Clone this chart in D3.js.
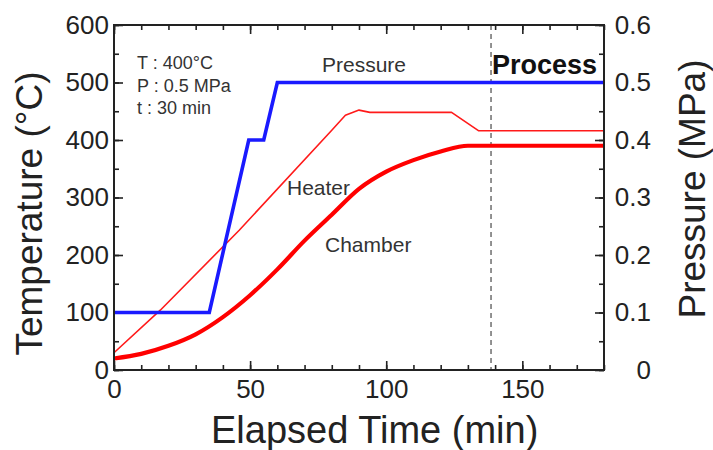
<!DOCTYPE html>
<html>
<head>
<meta charset="utf-8">
<script src="https://cdn.jsdelivr.net/npm/d3@7/dist/d3.min.js"></script>
<style>
  html, body { margin: 0; padding: 0; background: #fff; }
  svg { display: block; font-family: "Liberation Sans", Arial, Helvetica, sans-serif; }
</style>
</head>
<body>
<svg id="chart" width="713" height="450"></svg>
<script>
// Pressure set-point profile (MPa) against elapsed time (min)
const pressureTime = [0, 35, 49.5, 55, 60, 180];
const pressureMPa  = [0.1, 0.1, 0.4, 0.4, 0.5, 0.5];

// Heater temperature (°C)
const heaterTime = [0, 17, 46, 80, 85, 90, 94, 124, 129, 134, 180];
const heaterTemp = [30, 104, 243, 417, 443, 452, 448, 448, 432, 416, 416];

// Chamber temperature (°C)
const chamberTime = [0, 10, 20, 30, 40, 50, 60, 70, 80, 90, 100, 110, 120, 130, 180];
const chamberTemp = [20, 28, 42, 62, 92, 130, 175, 225, 270, 315, 345, 365, 380, 390, 390];

// Start of the process hold
const processStart = 138.5;

// Tick values
const timeMajor = [0, 50, 100, 150];
const timeMinor = d3.range(0, 181, 10);
const tempMajor = [0, 100, 200, 300, 400, 500, 600];
const tempMinor = d3.range(0, 601, 50);
const presMajor = [0, 0.1, 0.2, 0.3, 0.4, 0.5, 0.6];
const presMinor = d3.range(0, 13).map(i => i * 0.05);

// Condition notes
const conditionLines = ["T : 400\u00B0C", "P : 0.5 MPa", "t : 30 min"];

const svg = d3.select("#chart");
const L = 114, R = 604, T = 25, B = 370;

const x = d3.scaleLinear().domain([0, 180]).range([L, R]);
const yT = d3.scaleLinear().domain([0, 600]).range([B, T]);
const yP = d3.scaleLinear().domain([0, 0.6]).range([B, T]);

const axisColor = "#222";
const fs = 26;

// Minor and major ticks, all pointing into the plot
function styleAxis(g) {
  g.select(".domain").remove();
  g.selectAll("line").attr("stroke", axisColor).attr("stroke-width", 1.6);
  g.selectAll("text").attr("fill", axisColor).attr("font-size", fs)
    .attr("font-family", "Liberation Sans, Arial, sans-serif");
}

svg.append("g").attr("transform", `translate(0,${B})`)
  .call(d3.axisBottom(x).tickValues(timeMinor).tickSize(-5).tickSizeOuter(0).tickFormat(""))
  .call(styleAxis);
svg.append("g").attr("transform", `translate(0,${B})`)
  .call(d3.axisBottom(x).tickValues(timeMajor).tickSize(-9).tickSizeOuter(0).tickPadding(10))
  .call(styleAxis);

svg.append("g").attr("transform", `translate(0,${T})`)
  .call(d3.axisTop(x).tickValues(timeMinor).tickSize(-5).tickSizeOuter(0).tickFormat(""))
  .call(styleAxis);
svg.append("g").attr("transform", `translate(0,${T})`)
  .call(d3.axisTop(x).tickValues(timeMajor).tickSize(-9).tickSizeOuter(0).tickFormat(""))
  .call(styleAxis);

svg.append("g").attr("transform", `translate(${L},0)`)
  .call(d3.axisLeft(yT).tickValues(tempMinor).tickSize(-5).tickSizeOuter(0).tickFormat(""))
  .call(styleAxis);
svg.append("g").attr("transform", `translate(${L},0)`)
  .call(d3.axisLeft(yT).tickValues(tempMajor).tickSize(-9).tickSizeOuter(0).tickPadding(5))
  .call(styleAxis);

svg.append("g").attr("transform", `translate(${R},0)`)
  .call(d3.axisRight(yP).tickValues(presMinor).tickSize(-5).tickSizeOuter(0).tickFormat(""))
  .call(styleAxis);
svg.append("g").attr("transform", `translate(${R},0)`)
  .call(d3.axisRight(yP).tickValues(presMajor).tickSize(-9).tickSizeOuter(0)
    .tickFormat(d => d === 0 ? "0" : d3.format(".1f")(d)))
  .call(styleAxis)
  .call(g => g.selectAll("text").attr("text-anchor", "end").attr("x", 47));

// Process start marker
svg.append("line")
  .attr("x1", x(processStart)).attr("x2", x(processStart))
  .attr("y1", T).attr("y2", B)
  .attr("stroke", "#777").attr("stroke-width", 1.6)
  .attr("stroke-dasharray", "5,4");

// Curves
const heaterLine = d3.line().x(d => x(d[0])).y(d => yT(d[1]));
const chamberLine = d3.line().x(d => x(d[0])).y(d => yT(d[1])).curve(d3.curveMonotoneX);
const pressureLine = d3.line().x(d => x(d[0])).y(d => yP(d[1]));

svg.append("path")
  .datum(d3.zip(heaterTime, heaterTemp))
  .attr("d", heaterLine)
  .attr("fill", "none").attr("stroke", "#ff1a1a").attr("stroke-width", 1.6)
  .attr("stroke-linejoin", "round");

svg.append("path")
  .datum(d3.zip(chamberTime, chamberTemp))
  .attr("d", chamberLine)
  .attr("fill", "none").attr("stroke", "#ff0000").attr("stroke-width", 4.2)
  .attr("stroke-linejoin", "round");

svg.append("path")
  .datum(d3.zip(pressureTime, pressureMPa))
  .attr("d", pressureLine)
  .attr("fill", "none").attr("stroke", "#1a1aff").attr("stroke-width", 3.6)
  .attr("stroke-linejoin", "miter");

// Plot frame
svg.append("rect")
  .attr("x", L).attr("y", T).attr("width", R - L).attr("height", B - T)
  .attr("fill", "none").attr("stroke", axisColor).attr("stroke-width", 2);

// Condition notes
svg.append("g").selectAll("text")
  .data(conditionLines).join("text")
  .attr("x", 137).attr("y", (d, i) => 69 + i * 22.5)
  .attr("font-size", 18).attr("fill", "#333")
  .text(d => d);

// Curve labels
const labelStyle = t => t.attr("font-size", 21).attr("fill", "#333");
svg.append("text").attr("x", 322).attr("y", 72).text("Pressure").call(labelStyle);
svg.append("text").attr("x", 287).attr("y", 195).text("Heater").call(labelStyle);
svg.append("text").attr("x", 325).attr("y", 252).text("Chamber").call(labelStyle);

svg.append("text").attr("x", 492).attr("y", 74)
  .attr("font-size", 27).attr("font-weight", "bold").attr("fill", "#111")
  .text("Process");

// Axis titles
svg.append("text")
  .attr("x", 211).attr("y", 443)
  .attr("font-size", 38).attr("fill", "#222")
  .text("Elapsed Time (min)");

svg.append("text")
  .attr("transform", `translate(42,${(70 + 357) / 2}) rotate(-90)`)
  .attr("text-anchor", "middle")
  .attr("font-size", 37).attr("fill", "#222")
  .text("Temperature (\u00B0C)");

svg.append("text")
  .attr("transform", `translate(705,${(53 + 325) / 2}) rotate(-90)`)
  .attr("text-anchor", "middle")
  .attr("font-size", 37).attr("fill", "#222")
  .text("Pressure (MPa)");
</script>
</body>
</html>
